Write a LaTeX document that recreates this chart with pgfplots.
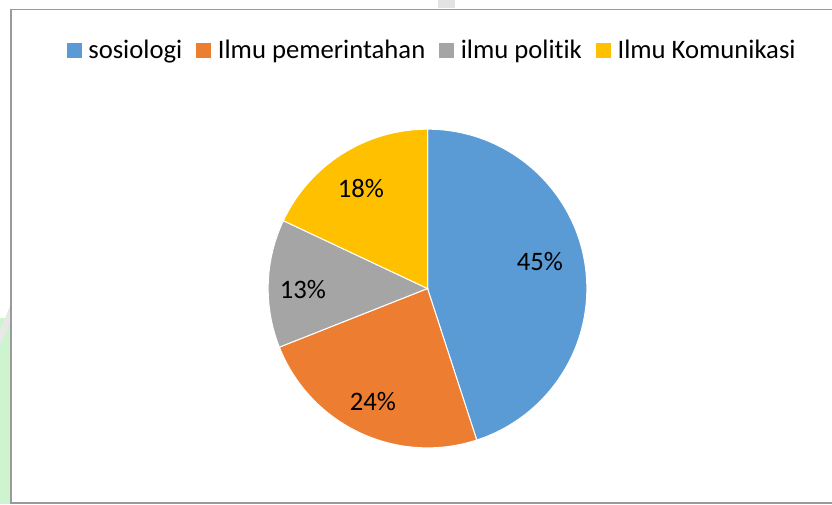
\documentclass[border=0pt]{standalone}
\usepackage{pgfplots}
\pgfplotsset{compat=1.18}
\usepackage{pgfplotstable}
\usepackage{fontspec}
\setmainfont{Carlito}[Ligatures={NoCommon,NoContextual}]
\definecolor{cA}{HTML}{5B9BD5}
\definecolor{cB}{HTML}{ED7D31}
\definecolor{cC}{HTML}{A5A5A5}
\definecolor{cD}{HTML}{FFC000}
\definecolor{frame}{HTML}{9A9A9A}
\definecolor{greenstrip}{HTML}{CDF3CF}

\pgfplotstableread[col sep=comma]{
label,share
sosiologi,45
Ilmu pemerintahan,24
ilmu politik,13
Ilmu Komunikasi,18
}\piedata

\begin{document}
\begin{tikzpicture}
\pgfplotstablegetelem{0}{share}\of\piedata \let\sA\pgfplotsretval
\pgfplotstablegetelem{1}{share}\of\piedata \let\sB\pgfplotsretval
\pgfplotstablegetelem{2}{share}\of\piedata \let\sC\pgfplotsretval
\pgfplotstablegetelem{3}{share}\of\piedata \let\sD\pgfplotsretval
\pgfmathsetmacro\aA{90-3.6*\sA}
\pgfmathsetmacro\aB{\aA-3.6*\sB}
\pgfmathsetmacro\aC{\aB-3.6*\sC}
\pgfmathsetmacro\aD{\aC-3.6*\sD}
\def\R{119.5pt}
\begin{axis}[
  at={(0,0)}, anchor=south west,
  width=624pt, height=378pt, scale only axis,
  xmin=0, xmax=832, ymin=0, ymax=504, y dir=reverse,
  hide axis, clip=false,
  legend style={at={(axis cs:432.5,50)}, anchor=center, draw=none, fill=none,
    font=\fontsize{20pt}{24pt}\selectfont,
    /tikz/every even column/.append style={column sep=8.5pt}},
  legend columns=-1,
  legend image code/.code={\fill[#1] (0pt,-5.25pt) rectangle (10.5pt,5.25pt);
    \path[draw=none, fill=none] (0pt,0pt) rectangle (14pt,0.1pt);},
]
% background pieces
\fill[greenstrip] (axis cs:0,318) rectangle (axis cs:10.5,504);
\fill[gray!18] (axis cs:0,330) -- (axis cs:10.5,305) -- (axis cs:10.5,322) -- (axis cs:0,345) -- cycle;
\fill[gray!22] (axis cs:438,0) rectangle (axis cs:455,8);
\draw[frame, line width=0.9pt] (axis cs:832,9.5) -- (axis cs:11,9.5) -- (axis cs:11,503) -- (axis cs:832,503);
% pie slices
\fill[cA, draw=white, line width=0.75pt] (axis cs:427.5,288.5) -- ++(90:\R) arc[start angle=90, end angle=\aA, radius=\R] -- cycle;
\fill[cB, draw=white, line width=0.75pt] (axis cs:427.5,288.5) -- ++(\aA:\R) arc[start angle=\aA, end angle=\aB, radius=\R] -- cycle;
\fill[cC, draw=white, line width=0.75pt] (axis cs:427.5,288.5) -- ++(\aB:\R) arc[start angle=\aB, end angle=\aC, radius=\R] -- cycle;
\fill[cD, draw=white, line width=0.75pt] (axis cs:427.5,288.5) -- ++(\aC:\R) arc[start angle=\aC, end angle=\aD, radius=\R] -- cycle;
% data labels
\node[font=\fontsize{20pt}{24pt}\selectfont] at (axis cs:540,262) {\sA\%};
\node[font=\fontsize{20pt}{24pt}\selectfont] at (axis cs:373,402) {\sB\%};
\node[font=\fontsize{20pt}{24pt}\selectfont] at (axis cs:303,290) {\sC\%};
\node[font=\fontsize{20pt}{24pt}\selectfont] at (axis cs:361,188) {\sD\%};
% legend
\addlegendimage{cA}\addlegendentry{sosiologi}
\addlegendimage{cB}\addlegendentry{Ilmu pemerintahan}
\addlegendimage{cC}\addlegendentry{ilmu politik}
\addlegendimage{cD}\addlegendentry{Ilmu Komunikasi}
\end{axis}
\pgfresetboundingbox
\useasboundingbox (0,0) rectangle (624pt,378pt);
\end{tikzpicture}
\end{document}
